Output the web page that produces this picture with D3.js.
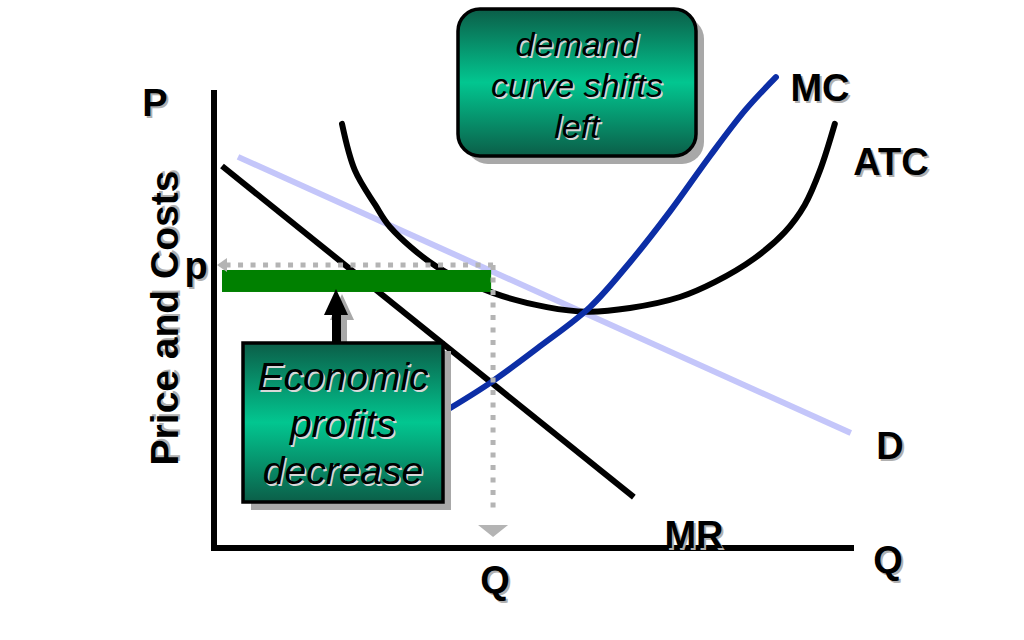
<!DOCTYPE html>
<html>
<head>
<meta charset="utf-8">
<script src="https://cdn.jsdelivr.net/npm/d3@7"></script>
<style>
  body { margin: 0; background: #fff; }
  text { font-family: "Liberation Sans", Arial, sans-serif; }
</style>
</head>
<body>
<svg id="chart" width="1024" height="640"></svg>
<script>
// curves, in output (x) / price (y) units
var mrLine = [[1.25, 83.4], [65.6, 11.1]];
var demand = [[3.75, 85.4], [99.5, 25.1]];
var mc = [[35.9, 29.7], [43.1, 36.0], [50.9, 44.0], [58.75, 52.6], [65.0, 62.4],
          [71.25, 73.5], [77.5, 85.6], [83.0, 95.6], [87.8, 102.8]];
var atc = [[20.0, 92.6], [22.0, 82.5], [25.2, 74.9], [27.5, 70.1], [34.8, 61.4],
           [43.6, 55.7], [52.0, 52.6], [58.3, 51.6], [65.0, 52.4], [72.8, 54.8],
           [78.3, 58.1], [84.5, 63.3], [89.2, 69.0], [92.3, 74.9], [94.7, 82.5], [97.0, 92.6]];
var qStar = 43.6;
var pStar = 61.8;
var profit = [1.25, 43.3, 55.9, 60.7]; // x0, x1, y0, y1

var svg = d3.select("#chart");

var x = d3.scaleLinear().domain([0, 100]).range([214, 854]);
var y = d3.scaleLinear().domain([0, 100]).range([548, 90]);

var defs = svg.append("defs");
var grad = defs.append("linearGradient").attr("id", "boxGrad")
  .attr("x1", 0).attr("y1", 0).attr("x2", 0).attr("y2", 1);
grad.append("stop").attr("offset", "0%").attr("stop-color", "#0b5e48");
grad.append("stop").attr("offset", "50%").attr("stop-color", "#02c690");
grad.append("stop").attr("offset", "100%").attr("stop-color", "#0b5e48");

var line = d3.line().x(function(d) { return x(d[0]); }).y(function(d) { return y(d[1]); });
var curve = d3.line().x(function(d) { return x(d[0]); }).y(function(d) { return y(d[1]); })
  .curve(d3.curveCatmullRom);

// shadowed bold label
function label(tx, ty, str, size, rot) {
  var g = svg.append("g").attr("transform", "translate(" + tx + "," + ty + ")" + (rot ? " rotate(" + rot + ")" : ""));
  g.append("text").attr("x", 2).attr("y", 2).attr("fill", "#b0b0b0")
    .attr("font-size", size).attr("font-weight", "bold").attr("text-anchor", "middle").text(str);
  g.append("text").attr("fill", "#000")
    .attr("font-size", size).attr("font-weight", "bold").attr("text-anchor", "middle").text(str);
}

// boxes with shadow and italic text
function box(bx, by, bw, bh, r, lines, size, lh, ty) {
  svg.append("rect").attr("x", bx + 8).attr("y", by + 8).attr("width", bw).attr("height", bh)
    .attr("rx", r).attr("fill", "#a8a8a8");
  svg.append("rect").attr("x", bx).attr("y", by).attr("width", bw).attr("height", bh)
    .attr("rx", r).attr("fill", "url(#boxGrad)").attr("stroke", "#000").attr("stroke-width", 3.5);
  lines.forEach(function(s, i) {
    svg.append("text").attr("x", bx + bw / 2 + 1.5).attr("y", ty + i * lh + 1.5)
      .attr("fill", "#d8d8d8").attr("font-size", size).attr("font-style", "italic")
      .attr("text-anchor", "middle").text(s);
    svg.append("text").attr("x", bx + bw / 2).attr("y", ty + i * lh)
      .attr("fill", "#000").attr("font-size", size).attr("font-style", "italic")
      .attr("text-anchor", "middle").text(s);
  });
}

// demand (shifted) line
svg.append("path").attr("d", line(demand)).attr("fill", "none")
  .attr("stroke", "#c4c6fa").attr("stroke-width", 6);

// MR
svg.append("path").attr("d", line(mrLine)).attr("fill", "none")
  .attr("stroke", "#000").attr("stroke-width", 6);

// ATC
svg.append("path").attr("d", curve(atc)).attr("fill", "none")
  .attr("stroke", "#000").attr("stroke-width", 6).attr("stroke-linecap", "round");

// MC
svg.append("path").attr("d", curve(mc)).attr("fill", "none")
  .attr("stroke", "#0c2ea6").attr("stroke-width", 6).attr("stroke-linecap", "round");

// profit bar
svg.append("rect").attr("x", x(profit[0])).attr("y", y(profit[3]))
  .attr("width", x(profit[1]) - x(profit[0])).attr("height", y(profit[2]) - y(profit[3]))
  .attr("fill", "#008000");

// dotted guides
svg.append("line").attr("x1", x(qStar)).attr("x2", x(1.7)).attr("y1", y(pStar)).attr("y2", y(pStar))
  .attr("stroke", "#b4b4b4").attr("stroke-width", 5).attr("stroke-dasharray", "5,7.5");
svg.append("path")
  .attr("d", "M" + (x(0) + 3) + "," + y(pStar) + "l10,-7l0,14z").attr("fill", "#b4b4b4");
svg.append("line").attr("x1", x(qStar)).attr("x2", x(qStar)).attr("y1", y(pStar)).attr("y2", y(7.2))
  .attr("stroke", "#b4b4b4").attr("stroke-width", 5).attr("stroke-dasharray", "5,7.5");
svg.append("path")
  .attr("d", "M" + (x(qStar) - 15) + "," + (y(2.4) - 12) + "l30,0l-15,12z").attr("fill", "#b4b4b4");

// axes
svg.append("line").attr("x1", x(0)).attr("x2", x(0)).attr("y1", y(100)).attr("y2", y(0) + 3)
  .attr("stroke", "#000").attr("stroke-width", 6);
svg.append("line").attr("x1", x(0) - 3).attr("x2", x(100)).attr("y1", y(0)).attr("y2", y(0))
  .attr("stroke", "#000").attr("stroke-width", 6);

// up arrow (with shadow)
[["#a8a8a8", 6, 5], ["#000", 0, 0]].forEach(function(a) {
  var g = svg.append("g").attr("transform", "translate(" + a[1] + "," + a[2] + ")");
  g.append("rect").attr("x", 332).attr("y", 312).attr("width", 9).attr("height", 32).attr("fill", a[0]);
  g.append("path").attr("d", "M336,289L348,315L324,315Z").attr("fill", a[0]);
});

box(243, 343, 200, 159, 0, ["Economic", "profits", "decrease"], 39, 47, 390);
box(458, 9, 238, 147, 22, ["demand", "curve shifts", "left"], 34, 41, 56);

// labels
label(155, 116, "P", 38);
label(178, 318, "Price and Costs", 39, -90);
label(196, 279, "p", 38);
label(820, 101, "MC", 38);
label(891, 175, "ATC", 38);
label(890, 459, "D", 38);
label(694, 548, "MR", 38);
label(888, 573, "Q", 38);
label(495, 593, "Q", 38);
</script>
</body>
</html>
